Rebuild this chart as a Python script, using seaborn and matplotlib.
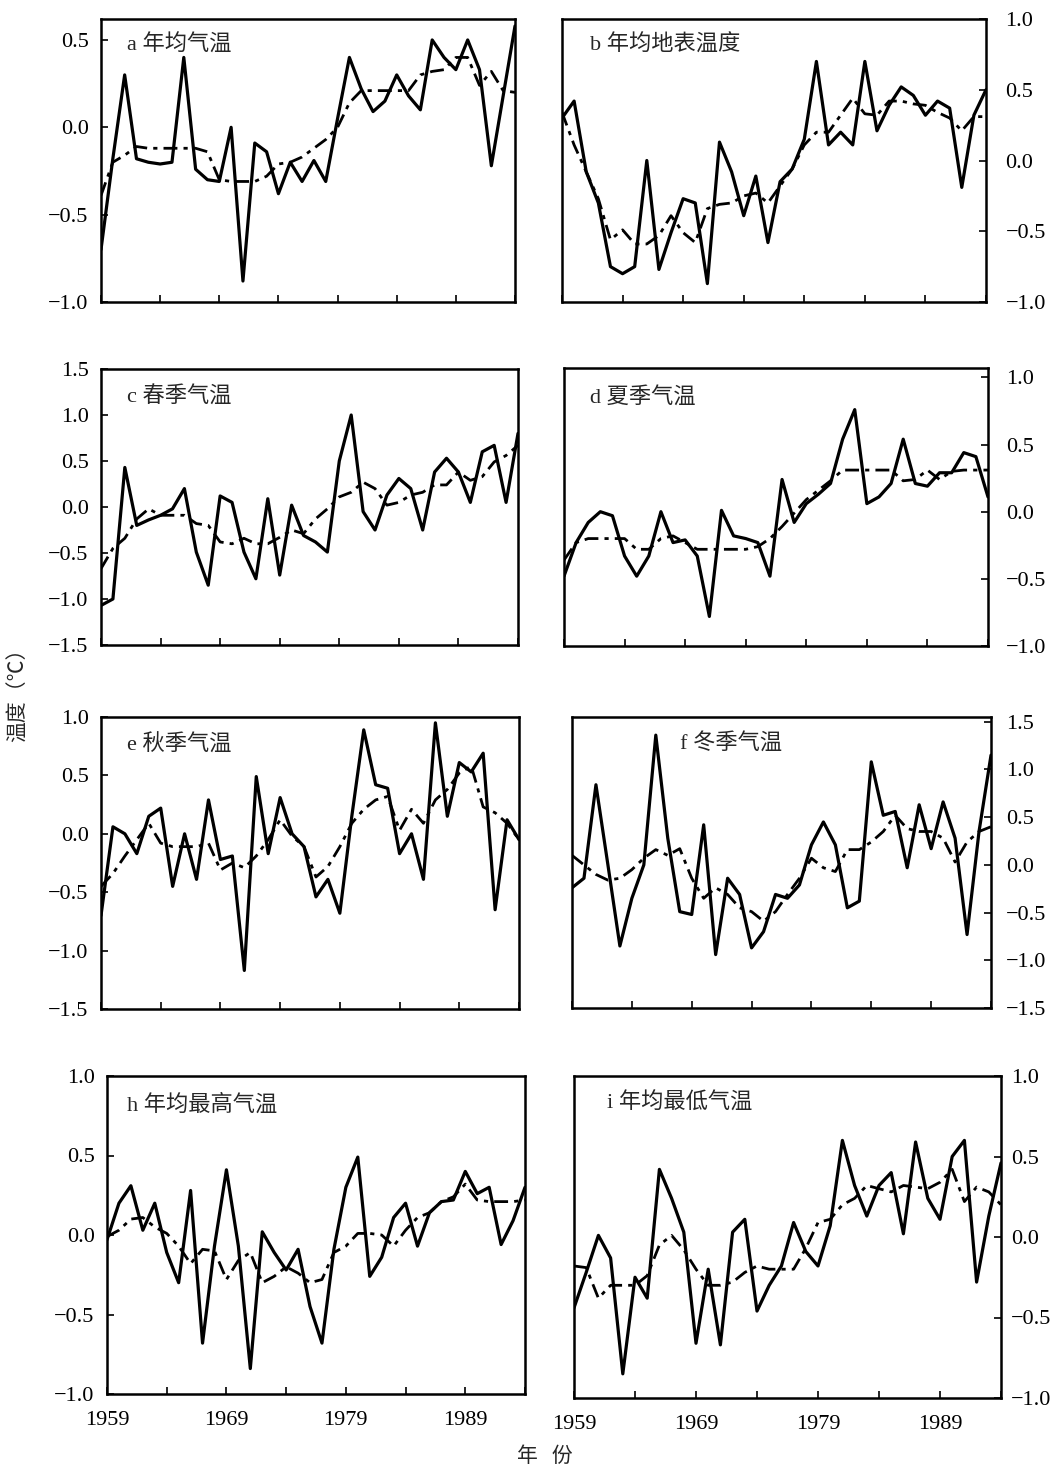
import numpy as np
import pandas as pd
import matplotlib
matplotlib.use("Agg")
import matplotlib.pyplot as plt
import seaborn as sns

# ---------------- data ----------------
years = list(range(1959, 1995))

a_solid = [-0.70, -0.18, 0.30, -0.18, -0.20, -0.21, -0.20, 0.40, -0.24, -0.30, -0.31, 0.00,
           -0.88, -0.09, -0.14, -0.38, -0.20, -0.31, -0.19, -0.31, 0.05, 0.40, 0.22, 0.09,
           0.15, 0.30, 0.18, 0.10, 0.50, 0.40, 0.33, 0.50, 0.33, -0.22, 0.18, 0.58]
a_dash = [-0.39, -0.20, -0.16, -0.11, -0.12, -0.12, -0.12, -0.12, -0.12, -0.14, -0.30, -0.31,
          -0.31, -0.31, -0.28, -0.21, -0.20, -0.17, -0.12, -0.07, 0.00, 0.14, 0.21, 0.21,
          0.21, 0.21, 0.21, 0.30, 0.32, 0.33, 0.40, 0.40, 0.24, 0.32, 0.21, 0.20]

b_solid = [0.30, 0.42, -0.08, -0.30, -0.75, -0.80, -0.75, 0.00, -0.77, -0.51, -0.27, -0.30,
           -0.87, 0.13, -0.08, -0.39, -0.11, -0.58, -0.15, -0.06, 0.15, 0.70, 0.11, 0.20,
           0.11, 0.70, 0.21, 0.39, 0.52, 0.46, 0.32, 0.42, 0.37, -0.19, 0.32, 0.50]
b_dash = [0.34, 0.11, -0.08, -0.27, -0.56, -0.49, -0.59, -0.59, -0.53, -0.39, -0.51, -0.58,
          -0.34, -0.31, -0.30, -0.25, -0.23, -0.30, -0.18, -0.06, 0.11, 0.20, 0.20, 0.32,
          0.44, 0.33, 0.32, 0.42, 0.42, 0.40, 0.39, 0.34, 0.30, 0.21, 0.31, 0.31]

c_solid = [-1.07, -1.00, 0.43, -0.20, -0.14, -0.09, -0.02, 0.20, -0.49, -0.85, 0.12, 0.05,
           -0.49, -0.78, 0.09, -0.74, 0.02, -0.31, -0.38, -0.49, 0.50, 1.00, -0.05, -0.25,
           0.13, 0.31, 0.20, -0.25, 0.38, 0.53, 0.38, 0.05, 0.60, 0.67, 0.05, 0.80]
c_dash = [-0.67, -0.45, -0.34, -0.13, -0.02, -0.09, -0.09, -0.09, -0.18, -0.20, -0.38, -0.40,
          -0.34, -0.40, -0.40, -0.33, -0.25, -0.29, -0.13, -0.02, 0.11, 0.16, 0.27, 0.20,
          0.02, 0.05, 0.13, 0.16, 0.24, 0.24, 0.38, 0.29, 0.33, 0.49, 0.56, 0.67]

d_solid = [-0.48, -0.23, -0.08, 0.00, -0.03, -0.33, -0.48, -0.33, 0.00, -0.23, -0.21, -0.33,
           -0.78, 0.01, -0.18, -0.20, -0.23, -0.48, 0.24, -0.08, 0.06, 0.13, 0.21, 0.54,
           0.76, 0.06, 0.11, 0.21, 0.54, 0.21, 0.19, 0.29, 0.29, 0.44, 0.41, 0.11]
d_dash = [-0.36, -0.23, -0.20, -0.20, -0.20, -0.20, -0.28, -0.28, -0.20, -0.18, -0.23, -0.28,
          -0.28, -0.28, -0.28, -0.28, -0.26, -0.20, -0.11, -0.01, 0.09, 0.16, 0.23, 0.31,
          0.31, 0.31, 0.31, 0.31, 0.23, 0.24, 0.31, 0.24, 0.30, 0.31, 0.31, 0.31]

e_solid = [-0.70, 0.06, 0.00, -0.17, 0.15, 0.22, -0.45, 0.00, -0.39, 0.29, -0.22, -0.19,
           -1.17, 0.49, -0.17, 0.31, 0.00, -0.11, -0.54, -0.39, -0.68, 0.15, 0.89, 0.42,
           0.39, -0.17, 0.00, -0.39, 0.95, 0.15, 0.61, 0.53, 0.69, -0.65, 0.12, -0.05]
e_dash = [-0.45, -0.34, -0.19, -0.05, 0.09, -0.08, -0.11, -0.11, -0.11, -0.08, -0.31, -0.25,
          -0.29, -0.19, -0.05, 0.12, -0.02, -0.11, -0.37, -0.28, -0.11, 0.09, 0.21, 0.29,
          0.32, 0.03, 0.21, 0.09, 0.29, 0.38, 0.52, 0.58, 0.23, 0.18, 0.09, -0.05]

f_solid = [-0.24, -0.14, 0.84, 0.00, -0.85, -0.35, 0.00, 1.36, 0.28, -0.49, -0.52, 0.42,
           -0.94, -0.14, -0.31, -0.87, -0.70, -0.31, -0.35, -0.21, 0.21, 0.45, 0.21, -0.45,
           -0.38, 1.08, 0.52, 0.56, -0.03, 0.63, 0.17, 0.66, 0.28, -0.73, 0.35, 1.15]
f_dash = [0.10, 0.00, -0.10, -0.16, -0.14, -0.05, 0.07, 0.16, 0.10, 0.17, -0.14, -0.35,
          -0.24, -0.31, -0.45, -0.49, -0.59, -0.49, -0.31, -0.14, 0.07, -0.03, -0.07, 0.16,
          0.16, 0.24, 0.35, 0.52, 0.38, 0.35, 0.35, 0.28, 0.03, 0.24, 0.35, 0.40]

h_solid = [-0.03, 0.20, 0.31, 0.03, 0.20, -0.11, -0.30, 0.28, -0.68, -0.07, 0.41, -0.07,
           -0.84, 0.02, -0.11, -0.22, -0.09, -0.45, -0.68, -0.09, 0.30, 0.49, -0.26, -0.14,
           0.11, 0.20, -0.07, 0.14, 0.21, 0.22, 0.40, 0.26, 0.30, -0.06, 0.09, 0.30]
h_dash = [-0.01, 0.03, 0.10, 0.11, 0.05, 0.01, -0.07, -0.18, -0.09, -0.10, -0.28, -0.16,
          -0.11, -0.30, -0.26, -0.20, -0.24, -0.30, -0.28, -0.11, -0.07, 0.01, 0.01, 0.00,
          -0.07, 0.03, 0.11, 0.14, 0.21, 0.24, 0.32, 0.22, 0.21, 0.21, 0.21, 0.22]

i_solid = [-0.44, -0.22, 0.01, -0.13, -0.85, -0.25, -0.38, 0.42, 0.24, 0.03, -0.66, -0.20,
           -0.67, 0.03, 0.11, -0.46, -0.30, -0.18, 0.09, -0.09, -0.18, 0.07, 0.60, 0.32,
           0.13, 0.32, 0.40, 0.02, 0.59, 0.24, 0.11, 0.50, 0.60, -0.28, 0.13, 0.46]
i_dash = [-0.18, -0.19, -0.38, -0.30, -0.30, -0.30, -0.24, -0.05, 0.01, -0.08, -0.20, -0.30,
          -0.30, -0.28, -0.22, -0.18, -0.20, -0.20, -0.20, -0.07, 0.09, 0.11, 0.20, 0.24,
          0.32, 0.30, 0.28, 0.32, 0.31, 0.30, 0.34, 0.42, 0.22, 0.31, 0.28, 0.20]

titles = ["a 年均气温", "b 年均地表温度", "c 春季气温", "d 夏季气温",
          "e 秋季气温", "f 冬季气温", "h 年均最高气温", "i 年均最低气温"]
x_tick_labels = ["1959", "", "1969", "", "1979", "", "1989", ""]
ylabel_text = "温度（℃）"
xlabel_text = "年   份"

# ---------------- styling / layout ----------------
sns.set_theme(style="ticks")
plt.rcParams["font.family"] = ["Liberation Serif", "Noto Sans CJK SC", "DejaVu Sans"]
plt.rcParams["axes.unicode_minus"] = True

W, H = 1058, 1473
fig = plt.figure(figsize=(W / 100, H / 100), dpi=100)

panels = [
    # series, box (L, R, T, B) in px, ylim, yticks, side, title pos, y label pad
    (a_solid, a_dash, (101, 515, 19, 302), (-1.0, 0.62), [0.5, 0.0, -0.5, -1.0], "left", (127, 45), 9),
    (b_solid, b_dash, (562, 986, 19, 302), (-1.0, 1.0), [1.0, 0.5, 0.0, -0.5, -1.0], "right", (590, 45), 14),
    (c_solid, c_dash, (101, 518, 369, 645), (-1.5, 1.5), [1.5, 1.0, 0.5, 0.0, -0.5, -1.0, -1.5], "left", (127, 397), 9),
    (d_solid, d_dash, (564, 988, 368, 646), (-1.0, 1.07), [1.0, 0.5, 0.0, -0.5, -1.0], "right", (590, 397), 13),
    (e_solid, e_dash, (101, 519, 717, 1009), (-1.5, 1.0), [1.0, 0.5, 0.0, -0.5, -1.0, -1.5], "left", (127, 745), 9),
    (f_solid, f_dash, (572, 991, 717, 1008), (-1.5, 1.55), [1.5, 1.0, 0.5, 0.0, -0.5, -1.0, -1.5], "right", (680, 743), 11),
    (h_solid, h_dash, (107, 525, 1076, 1394), (-1.0, 1.0), [1.0, 0.5, 0.0, -0.5, -1.0], "left", (127, 1105), 9),
    (i_solid, i_dash, (574, 1001, 1076, 1398), (-1.0, 1.0), [1.0, 0.5, 0.0, -0.5, -1.0], "right", (607, 1103), 7),
]

for k, (ys, yd, (L, R, T, B), ylim, yt, side, (tx, ty), ypad) in enumerate(panels):
    ax = fig.add_axes([L / W, 1 - B / H, (R - L) / W, (B - T) / H])
    df = pd.DataFrame({"year": years, "solid": ys, "dash": yd})
    sns.lineplot(data=df, x="year", y="solid", ax=ax, color="black", linewidth=2.3)
    sns.lineplot(data=df, x="year", y="dash", ax=ax, color="black", linewidth=2.0,
                 linestyle=(0, (5, 2.2, 1.5, 2.2)))
    ax.set_xlim(1959, 1994)
    ax.set_ylim(*ylim)
    ax.set_xlabel("")
    ax.set_ylabel("")
    ax.set_xticks(list(range(1959, 1995, 5)))
    if k >= 6:
        ax.set_xticklabels(x_tick_labels)
    else:
        ax.set_xticklabels([""] * 8)
    ax.set_yticks(yt)
    ax.set_yticklabels([f"{v:.1f}".replace("-", "\u2212") for v in yt])
    ax.tick_params(axis="both", direction="in", length=5, width=1.2, labelsize=16, colors="black")
    ax.tick_params(axis="x", pad=12)
    if side == "right":
        ax.yaxis.tick_right()
    ax.tick_params(axis="y", pad=ypad)
    for sp in ax.spines.values():
        sp.set_visible(True)
        sp.set_linewidth(1.8)
        sp.set_color("black")
    fig.text(tx / W, 1 - ty / H, titles[k], fontsize=16, va="center", ha="left",
             family=["Liberation Serif", "Noto Sans CJK SC"])

fig.text(18 / W, 1 - 690 / H, ylabel_text, rotation=90, fontsize=15, va="center", ha="center",
         family=["Noto Sans CJK SC", "DejaVu Sans"])
fig.text(545 / W, 1 - 1456 / H, xlabel_text, fontsize=15, va="center", ha="center",
         family=["Noto Sans CJK SC", "DejaVu Sans"])

fig.savefig("out.png", dpi=100, facecolor="white")
